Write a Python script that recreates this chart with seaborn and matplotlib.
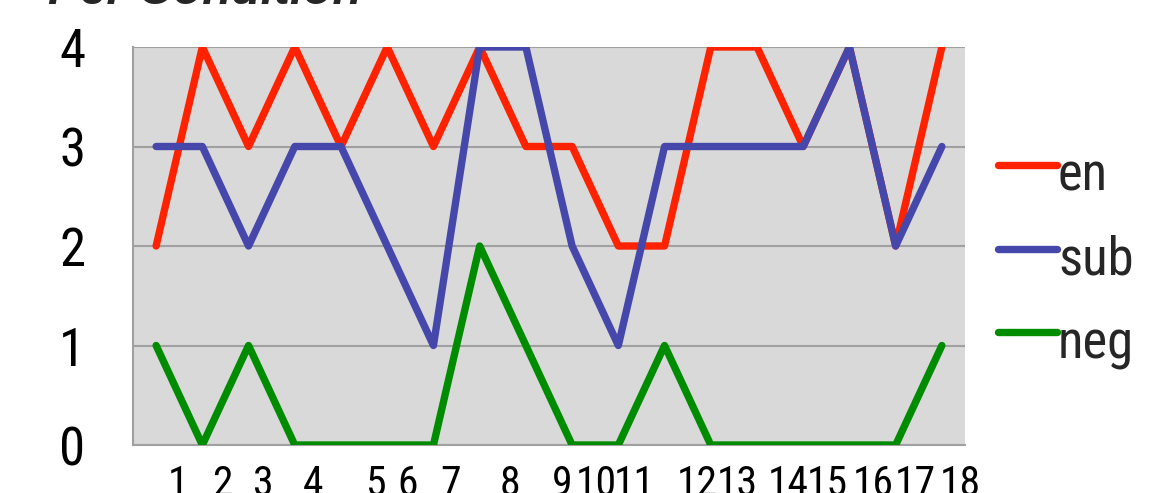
import matplotlib
matplotlib.use("Agg")
import matplotlib.pyplot as plt
from matplotlib import font_manager
from matplotlib.font_manager import FontProperties
from matplotlib.legend_handler import HandlerLine2D
from matplotlib.lines import Line2D
import seaborn as sns
import pandas as pd

# Scores per item for each condition
items = list(range(1, 19))
en = [2, 4, 3, 4, 3, 4, 3, 4, 3, 3, 2, 2, 4, 4, 3, 4, 2, 4]
sub = [3, 3, 2, 3, 3, 2, 1, 4, 4, 2, 1, 3, 3, 3, 3, 4, 2, 3]
neg = [1, 0, 1, 0, 0, 0, 0, 2, 1, 0, 0, 1, 0, 0, 0, 0, 0, 1]
conditions = ["en", "sub", "neg"]
tick_labels = [str(i) for i in items]

# where the item numbers sit under the axis (in item-index units)
label_offsets = [0.47, 1.43, 2.31, 3.40, 4.74, 5.45, 6.36, 7.66, 8.79,
                 9.52, 10.34, 11.71, 12.57, 13.67, 14.52, 15.51, 16.42, 17.40]

colors = {"en": "#FF2200", "sub": "#4548AA", "neg": "#008C00"}


def narrow_sans():
    """Pick a condensed sans-serif face if one is installed."""
    prefs = ["Liberation Sans Narrow", "Arial Narrow", "Roboto Condensed",
             "Noto Sans", "Open Sans", "DejaVu Sans", "Roboto", "Inter", "Lato"]
    cands = []
    for f in font_manager.fontManager.ttflist:
        nm = f.name
        low = (nm + " " + f.fname).lower()
        cond = ("narrow" in low or "condensed" in low
                or str(f.stretch) in ("condensed", "semi-condensed", "extra-condensed"))
        if not cond or f.style != "normal":
            continue
        if "bold" in f.fname.lower() or "light" in f.fname.lower() or "black" in f.fname.lower():
            continue
        if f.weight not in (400, "normal", "regular"):
            continue
        rank = len(prefs)
        for i, p in enumerate(prefs):
            if nm.startswith(p):
                rank = i
                break
        if "semi" in low:
            rank += 0.5
        cands.append((rank, f.fname))
    if cands:
        cands.sort()
        return cands[0][1]
    return None


path = narrow_sans()

sns.set_theme(style="white")
plt.rcParams["font.family"] = ["Liberation Sans", "DejaVu Sans"]


def fp(size):
    if path:
        return FontProperties(fname=path, size=size)
    return FontProperties(family=["Liberation Sans", "DejaVu Sans"], size=size)


class RaisedLine(HandlerLine2D):
    """Legend line sitting a little above the middle of its label."""

    def create_artists(self, legend, orig_handle, xdescent, ydescent,
                       width, height, fontsize, trans):
        artists = super().create_artists(legend, orig_handle, xdescent, ydescent,
                                         width, height, fontsize, trans)
        for a in artists:
            a.set_ydata([y + 0.14 * fontsize for y in a.get_ydata()])
        return artists


df = pd.DataFrame({
    "idx": list(range(len(items))) * 3,
    "score": en + sub + neg,
    "condition": ["en"] * len(items) + ["sub"] * len(items) + ["neg"] * len(items),
})

fig = plt.figure(figsize=(11.49, 4.93), dpi=100)
ax = fig.add_axes([133 / 1149, 48 / 493, 832 / 1149, 398 / 493])
ax.set_facecolor("#D9D9D9")

lw = 5.3
sns.lineplot(data=df, x="idx", y="score", hue="condition", hue_order=conditions,
             palette=colors, sort=False, linewidth=lw, ax=ax, legend=False,
             solid_capstyle="round", solid_joinstyle="round", zorder=3)

ax.set_xlim(-0.5, len(items) - 0.5)
ax.set_ylim(0, 4)
ax.set_yticks([0, 1, 2, 3, 4])
ax.yaxis.grid(True, color="#A0A0A0", linewidth=1.5, zorder=1)
ax.set_axisbelow(True)
ax.tick_params(axis="y", length=11.5, width=1.1, color="#A0A0A0", pad=23,
               labelcolor="black")
for t in ax.get_yticklabels():
    t.set_fontproperties(fp(38))
ax.set_xticks(label_offsets)
ax.set_xticklabels(tick_labels)
ax.tick_params(axis="x", length=0, pad=14, labelcolor="black")
for t in ax.get_xticklabels():
    t.set_fontproperties(fp(30))
ax.set_xlabel("")
ax.set_ylabel("")

for side in ("top", "right"):
    ax.spines[side].set_visible(False)
for side in ("left", "bottom"):
    ax.spines[side].set_color("#A0A0A0")
    ax.spines[side].set_linewidth(1.5)

handles = [Line2D([0], [0], color=colors[c], linewidth=lw, solid_capstyle="round")
           for c in conditions]
ax.legend(handles, conditions, loc="center left", bbox_to_anchor=(1.014, 0.464),
          frameon=False, prop=fp(38), handlelength=1.12, handletextpad=0.02,
          labelspacing=0.62, borderaxespad=0,
          handler_map={Line2D: RaisedLine()})

fig.text(48 / 1149, 1 - 4 / 493, "Per Condition", fontsize=34.5,
         fontstyle="italic", fontweight="bold", va="baseline", ha="left",
         family=["Liberation Sans", "DejaVu Sans"])

fig.savefig("out.png", dpi=100)
